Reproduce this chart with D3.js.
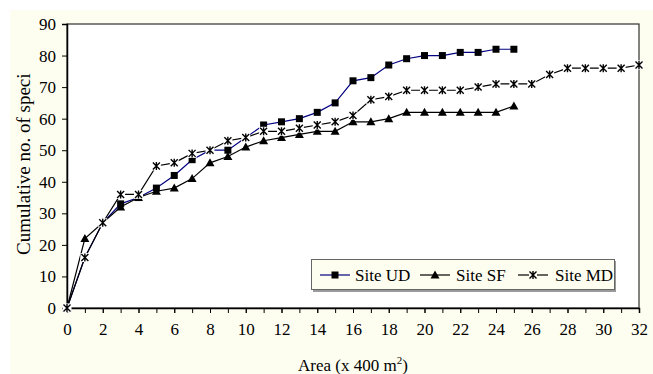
<!DOCTYPE html>
<html><head><meta charset="utf-8">
<script src="https://cdn.jsdelivr.net/npm/d3@7"></script>
<style>
html,body{margin:0;padding:0;background:#fff;}
svg{display:block;font-family:"Liberation Serif","Times New Roman",serif;}
svg text{font-family:"Liberation Serif","Times New Roman",serif;}
</style></head>
<body>
<svg id="c" width="653" height="374"></svg>
<script>
// ---- data ----
const areaUD = d3.range(0, 26);
const siteUD = [0,16,27,33,35,38,42,47,50,50,54,58,59,60,62,65,72,73,77,79,80,80,81,81,82,82];
const areaSF = d3.range(0, 26);
const siteSF = [0,22,27,32,35,37,38,41,46,48,51,53,54,55,56,56,59,59,60,62,62,62,62,62,62,64];
const areaMD = d3.range(0, 33);
const siteMD = [0,16,27,36,36,45,46,49,50,53,54,56,56,57,58,59,61,66,67,69,69,69,69,70,71,71,71,74,76,76,76,76,77];
const seriesNames = ["Site UD","Site SF","Site MD"];
const xTicks = d3.range(0, 33, 2);
const xMinorTicks = d3.range(0, 33, 1);
const yTicks = d3.range(0, 91, 10);
const xTitle = "Area (x 400 m";
const xTitleSup = "2";
const xTitleEnd = ")";
const yTitle = "Cumulative no. of species";

// ---- layout ----
const FONT = "Liberation Serif, Times New Roman, serif";
const svg = d3.select("#c");
const L = 67, R = 639, T = 24, B = 308;
const x = d3.scaleLinear().domain([0, 32]).range([L, R]);
const y = d3.scaleLinear().domain([0, 90]).range([B, T]);
const FS = 17;

svg.append("rect").attr("x",10).attr("y",10).attr("width",643).attr("height",364).attr("fill","#fefef0");
svg.append("rect").attr("x",L).attr("y",T).attr("width",R-L).attr("height",B-T)
  .attr("fill","#fff").attr("stroke","#303030").attr("stroke-width",1.2);

// axes
const yAxis = d3.axisLeft(y).tickValues(yTicks).tickSize(5).tickPadding(6);
const gy = svg.append("g").attr("transform",`translate(${L},0)`).call(yAxis)
  .attr("font-family",FONT).attr("font-size",FS);
gy.select(".domain").attr("stroke","#000").attr("stroke-width",1.5);
gy.selectAll("text").attr("fill","#000");

const xAxisMinor = d3.axisBottom(x).tickValues(xMinorTicks).tickSize(5).tickFormat("");
const gxm = svg.append("g").attr("transform",`translate(0,${B})`).call(xAxisMinor);
gxm.select(".domain").remove();
const xAxis = d3.axisBottom(x).tickValues(xTicks).tickSize(5).tickPadding(10);
const gx = svg.append("g").attr("transform",`translate(0,${B})`).call(xAxis)
  .attr("font-family",FONT).attr("font-size",FS);
gx.select(".domain").attr("stroke","#000").attr("stroke-width",1.5);
gx.selectAll("text").attr("fill","#000");

// titles
const xt = svg.append("text").attr("x",(L+R)/2).attr("y",371).attr("text-anchor","middle")
  .attr("font-size",FS).attr("font-family",FONT);
xt.append("tspan").text(xTitle);
xt.append("tspan").attr("font-size",11).attr("dy",-7).text(xTitleSup);
xt.append("tspan").attr("dy",7).text(xTitleEnd);

svg.append("clipPath").attr("id","yclip").append("rect").attr("x",0).attr("y",73).attr("width",60).attr("height",300);
svg.append("g").attr("clip-path","url(#yclip)")
  .append("text").attr("transform","translate(30,255) rotate(-90)")
  .attr("font-size",19).attr("font-family",FONT).attr("text-anchor","start").text(yTitle);

// markers
function squareM(g, cx, cy){ g.append("rect").attr("x",cx-3.5).attr("y",cy-3.5).attr("width",7).attr("height",7).attr("fill","#000"); }
function triM(g, cx, cy){ g.append("path").attr("d",`M${cx},${cy-4.5}L${cx+4.5},${cy+3.5}L${cx-4.5},${cy+3.5}Z`).attr("fill","#000"); }
function starM(g, cx, cy, bg){
  if(bg) g.append("rect").attr("x",cx-4.5).attr("y",cy-4.5).attr("width",9).attr("height",9).attr("fill","#fff");
  g.append("path").attr("d",`M${cx-3.5},${cy-3.5}L${cx+3.5},${cy+3.5}M${cx+3.5},${cy-3.5}L${cx-3.5},${cy+3.5}M${cx},${cy-4}L${cx},${cy+4}`)
   .attr("stroke","#000").attr("stroke-width",1.4).attr("fill","none");
}

const line = d3.line().x(d=>x(d[0])).y(d=>y(d[1]));
const series = [
  {xs:areaUD, ys:siteUD, color:"#000080", m:squareM},
  {xs:areaSF, ys:siteSF, color:"#000", m:triM},
  {xs:areaMD, ys:siteMD, color:"#000", m:starM}
];
series.forEach(s=>{
  const pts = s.xs.map((v,i)=>[v, s.ys[i]]);
  const g = svg.append("g");
  g.append("path").attr("d",line(pts)).attr("fill","none").attr("stroke",s.color).attr("stroke-width",1.2);
  pts.forEach(p=>s.m(g, x(p[0]), y(p[1]), true));
});

// legend
const lg = svg.append("g").attr("font-family",FONT);
lg.append("rect").attr("x",313).attr("y",261).attr("width",303).attr("height",31).attr("fill","#9a9a9a");
lg.append("rect").attr("x",311.5).attr("y",259.5).attr("width",303).attr("height",30).attr("fill","#fefef0").attr("stroke","#666").attr("stroke-width",1);
const legItems = [
  {x0:320, tx:355, color:"#000080", m:squareM},
  {x0:420, tx:456, color:"#000", m:triM},
  {x0:518, tx:555, color:"#000", m:starM}
];
legItems.forEach((it,i)=>{
  lg.append("line").attr("x1",it.x0).attr("x2",it.x0+30).attr("y1",275).attr("y2",275).attr("stroke",it.color).attr("stroke-width",1.2);
  if(i===2){ lg.append("rect").attr("x",it.x0+11).attr("y",271).attr("width",8).attr("height",8).attr("fill","#fefef0"); }
  it.m(lg, it.x0+15, 275, false);
  lg.append("text").attr("x",it.tx).attr("y",281).attr("font-size",FS).text(seriesNames[i]);
});
</script>
</body></html>
